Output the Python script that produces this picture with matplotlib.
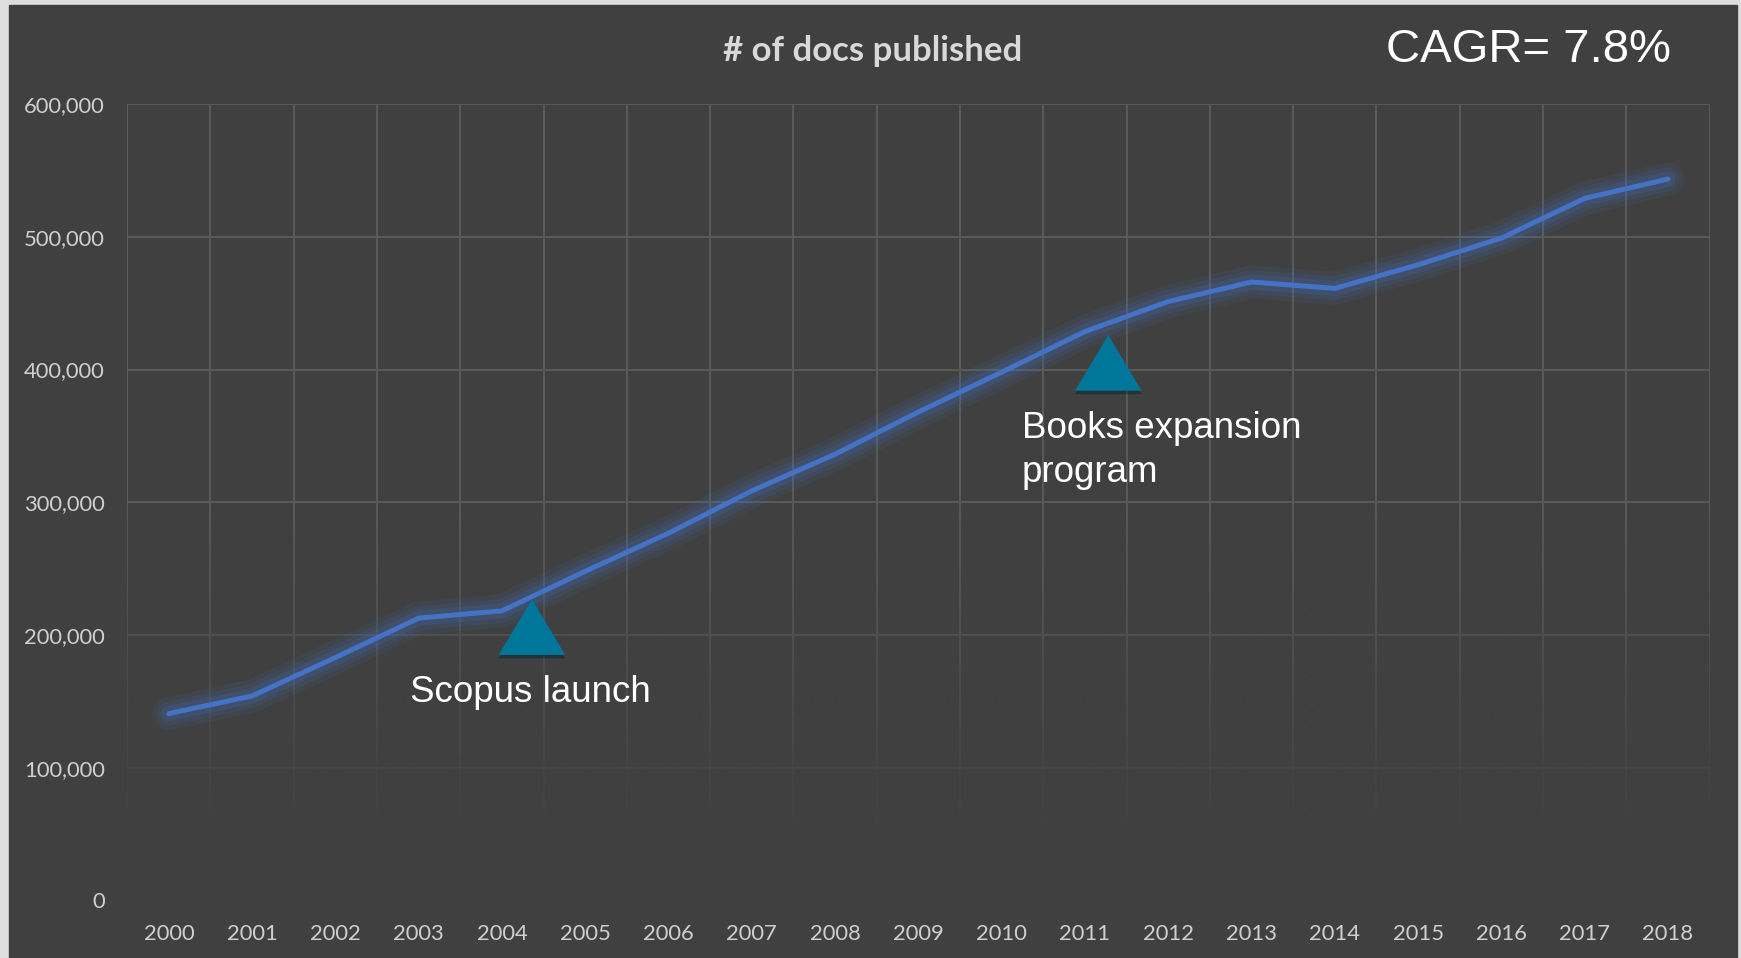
import matplotlib.pyplot as plt
import matplotlib.patheffects as pe
from matplotlib.patches import Rectangle, Polygon
from matplotlib.ticker import FuncFormatter
import numpy as np

# documents published per year
years = list(range(2000, 2019))
docs = [140800, 154100, 183000, 212700, 218200, 248000, 276700, 308600, 336200,
        368000, 398000, 428600, 451200, 465900, 461100, 478900, 499000, 528900, 543500]

# milestone markers (x position, triangle base / apex)
event_x = [2004.36, 2011.28]
event_base = [185000, 384000]
event_apex = [227000, 426000]
event_labels = ['Scopus launch', 'Books expansion\nprogram']
label_x = [2002.90, 2010.24]
label_y = [149500, 315600]   # baseline of the last text line

title = '# of docs published'
cagr_text = 'CAGR= 7.8%'

BG = '#404040'
W, H = 1741, 958

fig = plt.figure(figsize=(W / 100, H / 100), dpi=100, facecolor='#dedede')
fig.add_artist(Rectangle((9 / W, 0), (1737 - 9) / W, (H - 5) / H,
                         transform=fig.transFigure, color=BG, zorder=0))

ax = fig.add_axes([127.2 / W, (H - 900.5) / H, (1709.6 - 127.2) / W, (900.5 - 104) / H])
ax.set_facecolor(BG)
ax.patch.set_alpha(0)
for s in ax.spines.values():
    s.set_visible(False)

ax.set_xlim(1999.5, 2018.5)
ax.set_ylim(0, 600000)
ax.set_xticks(years)
ax.set_xticks(np.arange(1999.5, 2019.0, 1), minor=True)
ax.set_yticks(range(0, 600001, 100000))
ax.yaxis.set_major_formatter(FuncFormatter(lambda v, p: f'{v:,.0f}'))
ax.tick_params(which='both', length=0)
ax.tick_params(axis='y', pad=16, labelsize=15.8, labelcolor='#cfcfcf')
ax.tick_params(axis='x', pad=17, labelsize=15.8, labelcolor='#cfcfcf')
for lab in ax.get_xticklabels() + ax.get_yticklabels():
    lab.set_family('Lato')

ax.set_axisbelow(True)
ax.grid(axis='y', which='major', color='#5a5a5a', lw=1.4)
ax.grid(axis='x', which='minor', color='#5a5a5a', lw=1.4)
ax.yaxis.get_gridlines()[0].set_visible(False)

# grid fades out towards the bottom of the plot
ys = np.linspace(-4000, 600000, 300)
fade = np.clip((300000 - ys) / 250000, 0, 1)
grad = np.zeros((len(ys), 2, 4))
grad[..., :3] = np.array([0x40, 0x40, 0x40]) / 255
grad[..., 3] = fade[:, None]
shade = ax.imshow(grad, extent=(1999.5, 2018.5, -4000, 600000), origin='lower',
                  aspect='auto', zorder=1, interpolation='bilinear')
shade.set_clip_on(False)
ax.set_ylim(0, 600000)

# soft glow under the series line
for lw, a in [(24, 0.09), (17, 0.12), (11, 0.17)]:
    ax.plot(years, docs, color='#4472c4', lw=lw, alpha=a,
            solid_capstyle='round', solid_joinstyle='round', zorder=2)
ax.plot(years, docs, color='#4472c4', lw=3.6,
        solid_capstyle='round', solid_joinstyle='round', zorder=3)

half_w = 0.40
for x, b, t in zip(event_x, event_base, event_apex):
    tri = Polygon([(x - half_w, b), (x + half_w, b), (x, t)], closed=True,
                  facecolor='#00769a', edgecolor='none', zorder=4,
                  path_effects=[pe.SimplePatchShadow(offset=(0, -2.5), alpha=0.45),
                                pe.Normal()])
    ax.add_patch(tri)

for x, y, txt in zip(label_x, label_y, event_labels):
    ax.text(x, y, txt, fontsize=26.5, color='white', family='Liberation Sans',
            ha='left', va='baseline', linespacing=1.3, zorder=5)

fig.text(873 / W, (H - 60.7) / H, title, ha='center', va='baseline',
         fontsize=25, fontweight='bold', color='#d9d9d9', family='Lato')
fig.text(1385.6 / W, (H - 61.7) / H, cagr_text, ha='left', va='baseline',
         fontsize=34, color='white', family='Liberation Sans')

fig.savefig('out.png', dpi=100, facecolor=fig.get_facecolor())
